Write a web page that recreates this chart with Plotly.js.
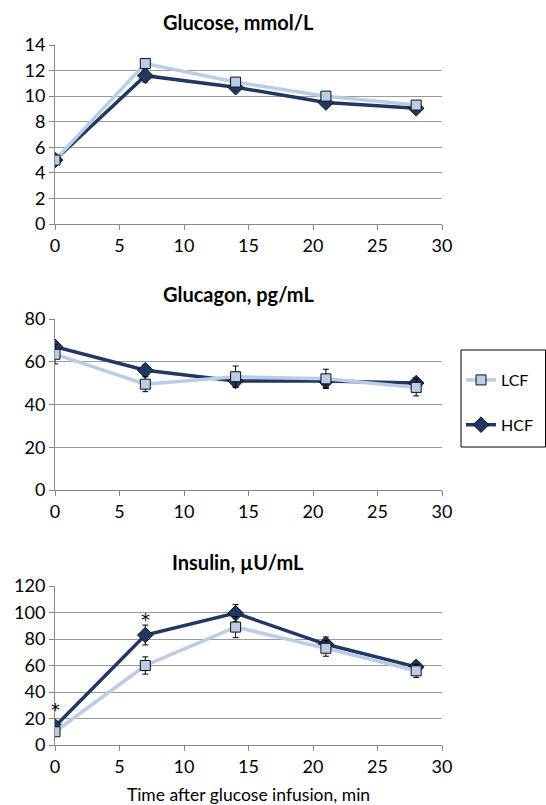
<!DOCTYPE html>
<html><head><meta charset="utf-8">
<script src="https://cdn.plot.ly/plotly-3.0.1.min.js"></script>
<style>html,body{margin:0;padding:0;background:#fff}#c{width:546px;height:805px}</style>
</head><body><div id="c"></div>
<script>
const time = [0, 7, 14, 21, 28];
const glucoseLCF = [5.0, 12.55, 11.1, 10.0, 9.3];
const glucoseLCFerr = [0.3, 0.3, 0.3, 0.3, 0.3];
const glucoseHCF = [5.0, 11.6, 10.7, 9.5, 9.05];
const glucoseHCFerr = [0.3, 0.5, 0.3, 0.3, 0.3];
const glucagonLCF = [63.5, 49.5, 53, 52, 48];
const glucagonLCFerr = [4.5, 3.5, 5, 4.5, 4];
const glucagonHCF = [67, 56, 51, 51, 50];
const glucagonHCFerr = [2, 2.5, 2.5, 3, 2.5];
const insulinLCF = [10, 60, 89, 73, 56];
const insulinLCFerr = [2, 6.5, 8, 6, 5];
const insulinHCF = [14, 83, 99.5, 76, 59];
const insulinHCFerr = [2, 7.5, 6.5, 5.5, 3.5];
const panelTitles = ["Glucose, mmol/L", "Glucagon, pg/mL", "Insulin, µU/mL"];
const xTitle = "Time after glucose infusion, min";
const seriesNames = ["LCF", "HCF"];
const starX = [0, 7];
const starY = [27, 95];

const LCFcol = "#b9cde5", HCFcol = "#1f3864";
const FONT = "Lato, 'Liberation Sans', sans-serif";

function tr(y, err, name, ax, show) {
  const isL = name === seriesNames[0];
  return {
    x: time, y: y, name: name, type: "scatter", mode: "lines+markers",
    xaxis: "x" + ax, yaxis: "y" + ax, legendgroup: name, showlegend: show,
    legendrank: isL ? 1 : 2,
    line: {color: isL ? LCFcol : HCFcol, width: 3.5},
    marker: {symbol: isL ? "square" : "diamond", size: isL ? 10 : 12,
      color: isL ? LCFcol : HCFcol, line: {color: "#111", width: 1}},
    error_y: {type: "data", array: err, visible: true, color: "#000", thickness: 1, width: 3}
  };
}
const data = [
  tr(glucoseHCF, glucoseHCFerr, "HCF", "", false),
  tr(glucoseLCF, glucoseLCFerr, "LCF", "", false),
  tr(glucagonHCF, glucagonHCFerr, "HCF", "2", true),
  tr(glucagonLCF, glucagonLCFerr, "LCF", "2", true),
  tr(insulinHCF, insulinHCFerr, "HCF", "3", false),
  tr(insulinLCF, insulinLCFerr, "LCF", "3", false)
];

const H = 805, PW = 387, L = 55;
function xa(anchor, title) {
  const o = {range: [0, 30], dtick: 5, tick0: 0, showgrid: false, zeroline: false,
    showline: true, linecolor: "#888", linewidth: 1, ticks: "outside", ticklen: 5, tickcolor: "#888",
    tickfont: {family: FONT, size: 18, color: "#000"}, anchor: anchor, fixedrange: true};
  if (title) o.title = {text: title, font: {family: FONT, size: 17.5, color: "#000"}, standoff: 15};
  return o;
}
function ya(dom, rng, dt) {
  return {domain: [1 - dom[1] / H, 1 - dom[0] / H], range: rng, dtick: dt, showgrid: true,
    gridcolor: "#9a9a9a", gridwidth: 1, zeroline: false, showline: true, linecolor: "#888",
    ticks: "outside", ticklen: 5, tickcolor: "#888",
    tickfont: {family: FONT, size: 18, color: "#000"}, fixedrange: true};
}
const titleY = [22, 294, 562];
const annotations = panelTitles.map((t, i) => ({
  text: "<b>" + t + "</b>", xref: "paper", yref: "paper", x: (238 - L) / PW, y: 1 - titleY[i] / H,
  xanchor: "center", yanchor: "middle", showarrow: false, font: {family: FONT, size: 20, color: "#000"}
}));
starX.forEach((sx, i) => annotations.push({text: "*", x: sx, y: starY[i], xref: "x3", yref: "y3",
  showarrow: false, font: {family: "'DejaVu Sans', sans-serif", size: 18, color: "#000"}, yanchor: "middle"}));

const layout = {
  width: 546, height: 805, margin: {l: L, r: 104, t: 0, b: 0},
  paper_bgcolor: "#fff", plot_bgcolor: "#fff", showlegend: true,
  xaxis: xa("y"), yaxis: ya([45, 224], [0, 14], 2),
  xaxis2: xa("y2"), yaxis2: ya([319, 490], [0, 80], 20),
  xaxis3: xa("y3", xTitle), yaxis3: ya([586, 745], [0, 120], 20),
  legend: {x: (461 - L) / PW, xanchor: "left", y: 1 - 363 / H, yanchor: "top",
    borderwidth: 0, bgcolor: "rgba(0,0,0,0)", tracegroupgap: 21,
    traceorder: "grouped", font: {family: FONT, size: 16, color: "#000"}, itemwidth: 30},
  shapes: [{type: "rect", xref: "paper", yref: "paper", x0: (461 - L) / PW, x1: (545.5 - L) / PW,
    y0: 1 - 447 / H, y1: 1 - 350 / H, line: {color: "#000", width: 1}, fillcolor: "rgba(0,0,0,0)"}],
  annotations: annotations
};
Plotly.newPlot("c", data, layout, {staticPlot: true, displayModeBar: false});
</script></body></html>
